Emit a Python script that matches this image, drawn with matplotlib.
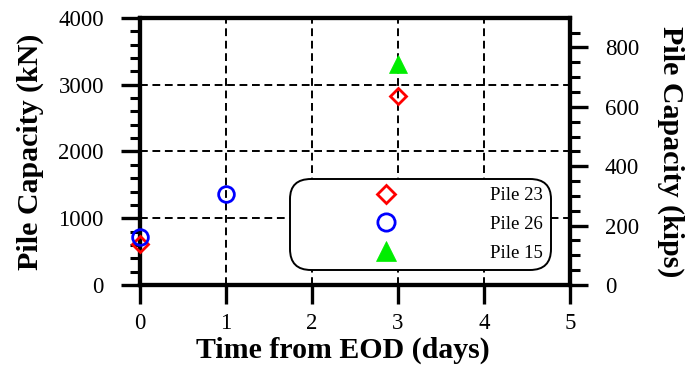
import numpy as np
import matplotlib.pyplot as plt
from matplotlib.ticker import MultipleLocator

plt.rcParams['font.family'] = ['Liberation Serif', 'DejaVu Serif']

# data
pile23_t = [0, 3]
pile23_q = [615, 2830]
pile26_t = [0, 1]
pile26_q = [725, 1365]
pile15_t = [3]
pile15_q = [3310]

KN_PER_KIP = 4.448

fig = plt.figure(figsize=(6.95, 3.73), dpi=100)
ax = fig.add_axes([140/695, 1 - 285/373, 430/695, 267/373])

ax.plot(pile23_t, pile23_q, ls='none', marker='D', ms=8.6, mfc='none', mec='red', mew=2,
        label='Pile 23', zorder=5, clip_on=False)
ax.plot(pile26_t, pile26_q, ls='none', marker='o', ms=11.3, mfc='none', mec='blue', mew=2,
        label='Pile 26', zorder=5, clip_on=False)
ax.plot(pile15_t, pile15_q, ls='none', marker='^', ms=13, mfc='#00ee00', mec='#00ee00', mew=0.5,
        label='Pile 15', zorder=5, clip_on=False)

ax.set_xlim(0, 5)
ax.set_ylim(0, 4000)
ax.xaxis.set_major_locator(MultipleLocator(1))
ax.yaxis.set_major_locator(MultipleLocator(1000))
ax.yaxis.set_minor_locator(MultipleLocator(200))
ax.grid(True, which='major', color='black', ls=(0, (4, 2.4)), lw=1.4)

for s in ax.spines.values():
    s.set_linewidth(3)
ax.tick_params(axis='x', which='major', direction='out', length=14, width=2.4, labelsize=16.5, pad=6)
ax.tick_params(axis='y', which='major', direction='out', length=14, width=2.4, labelsize=16.5, pad=12)
ax.tick_params(axis='y', which='minor', direction='out', length=7, width=2.2)
ax.tick_params(top=False, right=False)

ax.set_xlabel('Time from EOD (days)', fontsize=21.5, fontweight='bold', va='center')
ax.xaxis.set_label_coords(0.472, -0.245)
ax.set_ylabel('Pile Capacity (kN)', fontsize=21.5, fontweight='bold', va='center')
ax.yaxis.set_label_coords(-0.256, 0.5)

ax2 = ax.twinx()
ax2.set_ylim(0, 4000 / KN_PER_KIP)
ax2.yaxis.set_major_locator(MultipleLocator(200))
ax2.yaxis.set_minor_locator(MultipleLocator(50))
ax2.tick_params(axis='y', which='major', direction='out', length=13, width=2.4, labelsize=16.5, pad=12)
ax2.tick_params(axis='y', which='minor', direction='out', length=7, width=2.2)
for s in ax2.spines.values():
    s.set_linewidth(3)
ax2.set_ylabel('Pile Capacity (kips)', fontsize=21.5, fontweight='bold', rotation=270, va='center')
ax2.yaxis.set_label_coords(1.235, 0.5)

ax.set_zorder(ax2.get_zorder() + 1)
ax.patch.set_visible(False)

leg = ax.legend(loc='lower left', bbox_to_anchor=(0.349, 0.056), fontsize=13.5,
                handlelength=9.3, handletextpad=0.9, labelspacing=0.62, markerscale=1.1,
                borderpad=0.45, borderaxespad=0, frameon=True, framealpha=1,
                edgecolor='black', fancybox=True)
fr = leg.get_frame()
fr.set_linewidth(1.4)
fr.set_boxstyle('round', pad=0, rounding_size=1.1)

fig.savefig('out.png', dpi=100)
